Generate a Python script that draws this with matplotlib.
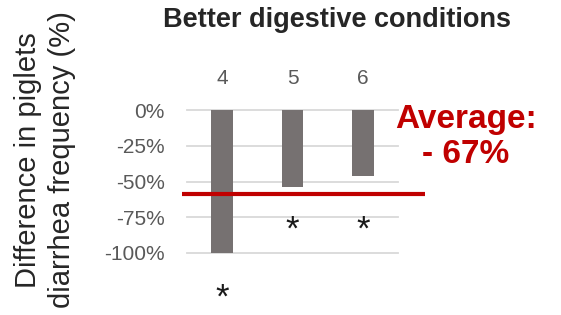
import matplotlib.pyplot as plt
from matplotlib.transforms import blended_transform_factory

# ==================== data ====================
categories = ['4', '5', '6']
values = [-100, -54, -46]
star_y = [-133, -84, -84]
average_line = -58.7
yticks = [0, -25, -50, -75, -100]
ytick_labels = ['0%', '-25%', '-50%', '-75%', '-100%']

BAR_COLOR = '#767171'
RED = '#C00000'
GRID = '#D9D9D9'
TXT = '#595959'

plt.rcParams['font.family'] = ['Liberation Sans', 'DejaVu Sans']

fig = plt.figure(figsize=(5.61, 3.15), dpi=100)
ax = fig.add_axes([187 / 561, 1 - 253 / 315, 211 / 561, 143 / 315])

x = list(range(len(categories)))
ax.bar(x, values, width=0.31, color=BAR_COLOR, zorder=3)
ax.set_xlim(-0.5, 2.5)
ax.set_ylim(-100, 0)

# grid lines
for v in yticks:
    ax.axhline(v, color=GRID, lw=1.3, zorder=1, clip_on=False)

ax.set_yticks(yticks)
ax.set_yticklabels(ytick_labels, fontsize=15, color=TXT)
ax.tick_params(axis='y', length=0, pad=16)
ax.set_xticks([])
for s in ax.spines.values():
    s.set_visible(False)

# category labels above the bars
for xi, c in zip(x, categories):
    ax.text(xi, 22, c, ha='center', va='center', fontsize=15, color=TXT, clip_on=False)

# asterisks (the one below the -100% bar sits at the figure's bottom edge)
bottom_tr = blended_transform_factory(ax.transData, fig.transFigure)
for xi, sy in zip(x, star_y):
    if sy < -110:
        ax.text(xi, 0.0, '*', ha='center', va='bottom', fontsize=25, color='#1a1a1a',
                transform=bottom_tr, clip_on=False)
    else:
        ax.text(xi, sy, '*', ha='center', va='center', fontsize=25, color='#1a1a1a',
                clip_on=False)

# average line (extends beyond the axes)
ax.plot([-0.571, 2.884], [average_line, average_line], color=RED, lw=3, zorder=4, clip_on=False,
        solid_capstyle='butt')

fig.text(466 / 561, 1 - 137 / 315, 'Average:\n- 67%', ha='center', va='center',
         fontsize=24, fontweight='bold', color=RED, linespacing=1.2)

fig.text(337 / 561, 1 - 20 / 315, 'Better digestive conditions', ha='center', va='center',
         fontsize=19.5, fontweight='bold', color='#262626')

fig.text(45 / 561, 1 - 160 / 315, 'Difference in piglets\ndiarrhea frequency (%)', rotation=90,
         ha='center', va='center', fontsize=21, color='#262626', linespacing=1.25)

fig.savefig('out.png', dpi=100)
